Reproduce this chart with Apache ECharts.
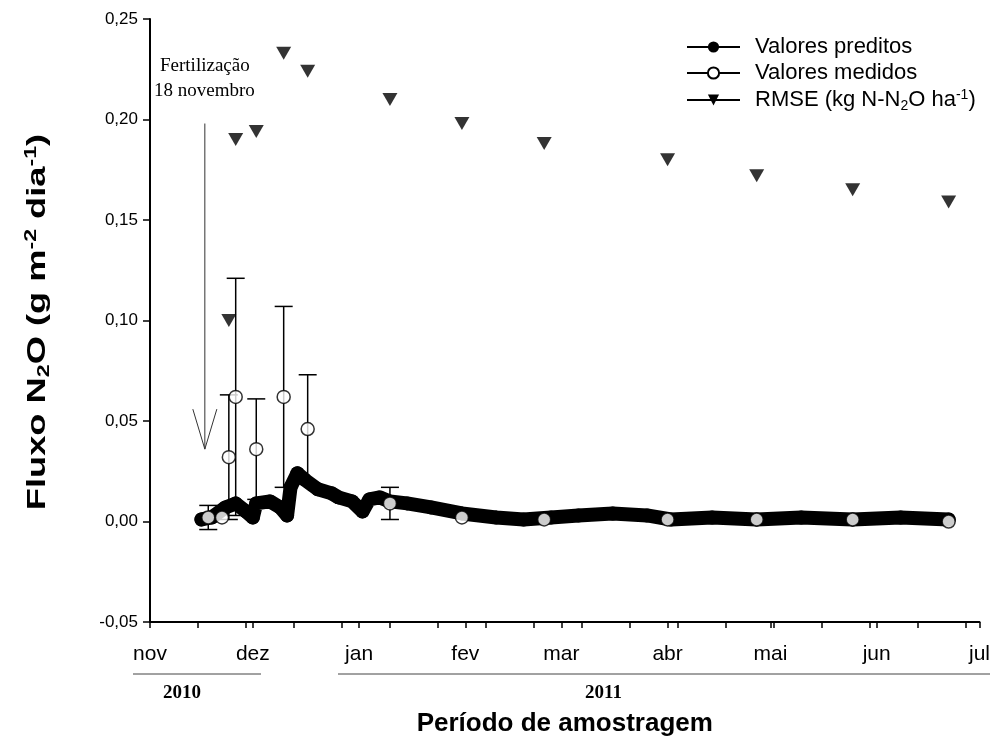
<!DOCTYPE html>
<html>
<head>
<meta charset="utf-8">
<script src="https://cdn.jsdelivr.net/npm/echarts@6/dist/echarts.min.js"></script>
<style>html,body{margin:0;padding:0;background:#fff}#c{width:993px;height:752px}</style>
</head>
<body>
<div id="c"></div>
<script>
// x values are days since 1 Nov 2010
const monthDays = [0, 30, 61, 92, 120, 151, 181, 212, 242];
const monthLabels = ['nov', 'dez', 'jan', 'fev', 'mar', 'abr', 'mai', 'jun', 'jul'];
const minorTickDays = [14, 28, 42, 56, 70, 84, 98, 112, 126, 140, 154, 168, 182, 196, 210, 224, 238];
const yTicks = [-0.05, 0, 0.05, 0.10, 0.15, 0.20, 0.25];

const predDays = [15, 18, 22, 25, 28, 30, 31, 35, 38, 40, 41, 43, 45, 49, 53, 55, 59, 62, 64, 67, 70, 75, 82, 91, 101, 109, 117, 125, 135, 145, 152, 164, 177, 190, 205, 219, 233];
const predVals = [0.001, 0.002, 0.007, 0.009, 0.005, 0.002, 0.009, 0.010, 0.007, 0.003, 0.017, 0.024, 0.021, 0.016, 0.014, 0.012, 0.010, 0.005, 0.011, 0.012, 0.010, 0.009, 0.007, 0.004, 0.002, 0.001, 0.002, 0.003, 0.004, 0.003, 0.001, 0.002, 0.001, 0.002, 0.001, 0.002, 0.001];

const measDays = [17, 21, 23, 25, 31, 39, 46, 70, 91, 115, 151, 177, 205, 233];
const measVals = [0.002, 0.002, 0.032, 0.062, 0.036, 0.062, 0.046, 0.009, 0.002, 0.001, 0.001, 0.001, 0.001, 0.000];
const measErr = [0.006, 0, 0.031, 0.059, 0.025, 0.045, 0.027, 0.008, 0, 0, 0, 0, 0, 0];

const rmseDays = [23, 25, 31, 39, 46, 70, 91, 115, 151, 177, 205, 233];
const rmseVals = [0.100, 0.190, 0.194, 0.233, 0.224, 0.210, 0.198, 0.188, 0.180, 0.172, 0.165, 0.159];

const fertDay = 16;
const fertArrowTop = 0.198;
const fertArrowTip = 0.036;

const predData = predDays.map((d, i) => [d, predVals[i]]);
const measData = measDays.map((d, i) => [d, measVals[i]]);
const rmseData = rmseDays.map((d, i) => [d, rmseVals[i]]);
const errData = measDays.map((d, i) => [d, measVals[i] - measErr[i], measVals[i] + measErr[i], i === 0 ? 1 : 0]).filter((r, i) => measErr[i] > 0);

const chart = echarts.init(document.getElementById('c'), null, {renderer: 'canvas'});
const FONT = 'Liberation Sans, Arial, sans-serif';
const SERIF = 'Liberation Serif, Times New Roman, serif';
const TRI = 'path://M0,0 L10,0 L5,9 Z';

chart.setOption({
  animation: false,
  grid: {left: 150, right: 6, top: 19, bottom: 130, containLabel: false},
  legend: {
    left: 681, top: 31, orient: 'vertical', itemGap: 4, itemWidth: 53, itemHeight: 14,
    data: ['Valores preditos', 'Valores medidos', 'RMSE'],
    textStyle: {fontSize: 22, fontFamily: FONT, color: '#000',
      rich: {
        t: {fontSize: 22, fontFamily: FONT, color: '#000'},
        p: {fontSize: 22, fontFamily: FONT, color: '#000', padding: [0, 0, 0, 10]},
        sub: {fontSize: 14, fontFamily: FONT, color: '#000', padding: [12, 0, 0, 0]},
        sup: {fontSize: 14, fontFamily: FONT, color: '#000', padding: [0, 0, 10, 0]}
      }},
    formatter: function (n) {
      if (n === 'RMSE') return '{p|RMSE (kg N-N}{sub|2}{t|O ha}{sup|-1}{t|)}';
      return '{p|' + n + '}';
    },
    selectedMode: false
  },
  xAxis: {
    type: 'value', min: 0, max: 242,
    axisLine: {onZero: false, lineStyle: {color: '#000', width: 2}},
    axisTick: {show: true, length: 6, inside: false, lineStyle: {color: '#000', width: 1.5},
      customValues: monthDays.concat(minorTickDays)},
    axisLabel: {customValues: monthDays, margin: 22, fontSize: 21, fontFamily: FONT, color: '#000',
      formatter: function (v) { const k = monthDays.indexOf(v); return k >= 0 ? monthLabels[k] : ''; }},
    splitLine: {show: false},
    name: 'Período de amostragem', nameLocation: 'middle', nameGap: 89,
    nameTextStyle: {fontSize: 26, fontWeight: 'bold', fontFamily: FONT, color: '#000'}
  },
  yAxis: {
    type: 'value', min: -0.05, max: 0.25, interval: 0.05,
    axisLine: {onZero: false, lineStyle: {color: '#000', width: 2}},
    axisTick: {show: true, length: 7, lineStyle: {color: '#000', width: 1.5}},
    axisLabel: {margin: 12, fontSize: 17, fontFamily: FONT, color: '#000',
      formatter: function (v) { return v.toFixed(2).replace('.', ','); }},
    splitLine: {show: false}
  },
  series: [
    {
      name: 'errbars', type: 'custom', z: 2,
      data: errData,
      renderItem: function (params, api) {
        const x = api.coord([api.value(0), 0])[0];
        const lo = api.coord([api.value(0), api.value(1)])[1];
        const hi = api.coord([api.value(0), api.value(2)])[1];
        const w = 9;
        return {type: 'group', children: [
          {type: 'line', shape: {x1: x, y1: lo, x2: x, y2: hi}, style: {stroke: '#000', lineWidth: 1.5}},
          {type: 'line', shape: {x1: x - w, y1: hi, x2: x + w, y2: hi}, style: {stroke: '#000', lineWidth: 1.5}},
          {type: 'line', shape: {x1: x - w, y1: lo, x2: x + w, y2: lo}, style: {stroke: '#000', lineWidth: 1.5}}
        ]};
      }
    },
    {
      name: 'predLine', type: 'line', data: predData, z: 3,
      symbol: 'circle', symbolSize: 14, showSymbol: true, showAllSymbol: true,
      itemStyle: {color: '#000'},
      lineStyle: {color: '#000', width: 14, cap: 'round', join: 'round'}
    },
    {
      name: 'measPts', type: 'scatter', data: measData, z: 4,
      symbol: 'circle', symbolSize: 13,
      itemStyle: {color: '#fff', borderColor: '#000', borderWidth: 1.5}
    },
    {
      name: 'rmsePts', type: 'scatter', data: rmseData, z: 4,
      symbol: TRI, symbolSize: [15, 13],
      itemStyle: {color: '#000'}
    },
    {name: 'Valores preditos', type: 'line', data: [], symbol: 'circle', symbolSize: 14,
      itemStyle: {color: '#000'}, lineStyle: {color: '#000', width: 1.5}},
    {name: 'Valores medidos', type: 'line', data: [], symbol: 'circle', symbolSize: 13,
      itemStyle: {color: '#fff', borderColor: '#000', borderWidth: 1.5}, lineStyle: {color: '#000', width: 1.5}},
    {name: 'RMSE', type: 'line', data: [], symbol: TRI, symbolSize: [15, 13],
      itemStyle: {color: '#000'}, lineStyle: {color: '#000', width: 1.5}},
    {
      name: 'fert', type: 'custom', z: 5,
      data: [[fertDay, fertArrowTop, fertArrowTip]],
      renderItem: function (params, api) {
        const top = api.coord([api.value(0), api.value(1)]);
        const tip = api.coord([api.value(0), api.value(2)]);
        return {type: 'group', children: [
          {type: 'line', shape: {x1: top[0], y1: top[1], x2: tip[0], y2: tip[1]}, style: {stroke: '#333', lineWidth: 1}},
          {type: 'polyline', shape: {points: [[tip[0] - 12, tip[1] - 40], [tip[0], tip[1]], [tip[0] + 12, tip[1] - 40]]}, style: {stroke: '#333', lineWidth: 1, fill: null}}
        ]};
      }
    }
  ],
  graphic: [
    {type: 'text', x: 38, y: 322, rotation: Math.PI / 2, scaleX: 1.45,
      style: {text: '{b|Fluxo N}{bs|2}{b|O (g m}{bp|-2}{b| dia}{bp|-1}{b|)}', align: 'center', verticalAlign: 'middle',
        rich: {
          b: {fontSize: 25, fontWeight: 'bold', fontFamily: FONT, fill: '#000'},
          bs: {fontSize: 16, fontWeight: 'bold', fontFamily: FONT, fill: '#000', padding: [14, 0, 0, 0]},
          bp: {fontSize: 16, fontWeight: 'bold', fontFamily: FONT, fill: '#000', padding: [0, 0, 12, 0]}
        }}},
    {type: 'text', left: 160, top: 57, style: {text: 'Fertilização', fontSize: 19, fontFamily: SERIF, fill: '#000'}},
    {type: 'text', left: 154, top: 82, style: {text: '18 novembro', fontSize: 19, fontFamily: SERIF, fill: '#000'}},
    {type: 'line', shape: {x1: 133, y1: 674, x2: 261, y2: 674}, style: {stroke: '#444', lineWidth: 1}},
    {type: 'line', shape: {x1: 338, y1: 674, x2: 990, y2: 674}, style: {stroke: '#444', lineWidth: 1}},
    {type: 'text', left: 163, top: 684, style: {text: '2010', fontSize: 19, fontWeight: 'bold', fontFamily: SERIF, fill: '#000'}},
    {type: 'text', left: 585, top: 684, style: {text: '2011', fontSize: 19, fontWeight: 'bold', fontFamily: SERIF, fill: '#000'}}
  ]
});
</script>
</body>
</html>
